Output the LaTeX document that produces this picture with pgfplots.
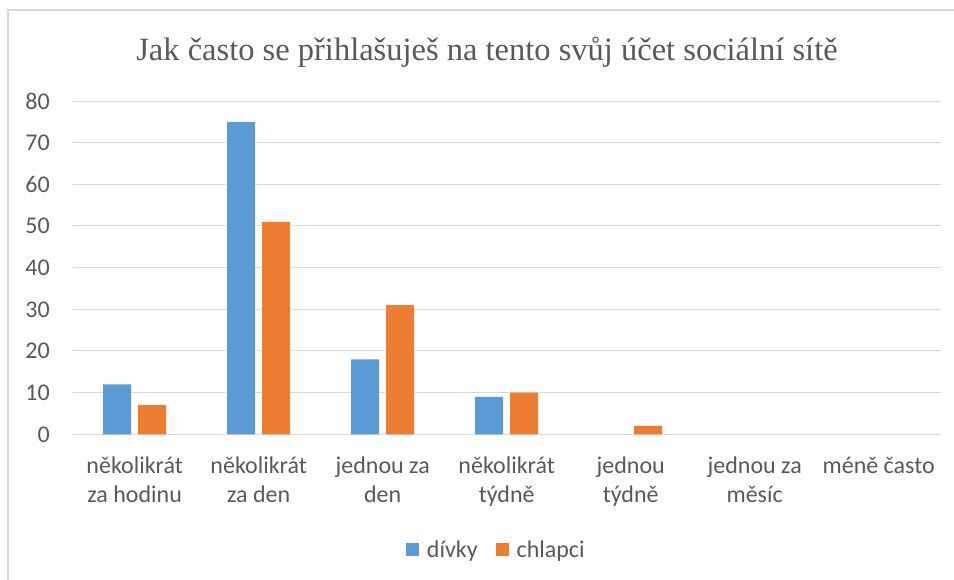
\documentclass[border=0pt]{standalone}
\usepackage{fontspec}
\setmainfont{Carlito}
\newfontfamily\titlefont{Liberation Serif}
\usepackage{pgfplots}
\pgfplotsset{compat=1.18}
\definecolor{cblue}{HTML}{5B9BD5}
\definecolor{corange}{HTML}{ED7D31}
\definecolor{cgrid}{HTML}{D9D9D9}
\definecolor{ctext}{HTML}{595959}
\begin{document}
\begin{tikzpicture}[x=1pt,y=1pt]
\useasboundingbox (0,0) rectangle (954,580);
% chart frame (only left and top edges fall inside the picture)
\draw[cgrid,line width=1.2pt] (8,-5) -- (8,570) -- (960,570);
\node[anchor=base,text=ctext,font=\titlefont\fontsize{32.5}{36}\selectfont]
  at (487,519) {Jak často se přihlašuješ na tento svůj účet sociální sítě};
\begin{axis}[
  at={(72.7pt,145.7pt)}, anchor=south west,
  scale only axis, width=868pt, height=333.3pt,
  ybar=7pt, bar width=28pt,
  xmin=-0.5, xmax=6.5, ymin=0, ymax=80,
  ytick={0,10,...,80},
  xtick={0,1,...,6},
  xticklabels={{několikrát\\za hodinu},{několikrát\\za den},{jednou za\\den},
               {několikrát\\týdně},{jednou\\týdně},{jednou za\\měsíc},
               {\vphantom{ká}méně často}},
  axis line style={draw=none},
  ymajorgrids, grid style={cgrid,line width=1pt},
  major tick length=0pt,
  /pgf/number format/assume math mode=true,
  tick label style={text=ctext,inner sep=0pt,font=\fontsize{24}{29}\selectfont},
  yticklabel style={xshift=-22.7pt},
  xticklabel style={align=center,anchor=north,yshift=-22pt},
  legend style={at={(0.488,-0.3457)},anchor=center,draw=none,
    legend columns=-1,font=\fontsize{24}{28}\selectfont,text=ctext,
    /tikz/every even column/.append style={column sep=16pt}},
  legend image code/.code={\fill[#1] (0pt,-6.5pt) rectangle (13pt,6.5pt);
    \path (19pt,0pt);},
]
% zero-valued categories are left out (Excel draws nothing for them)
\addplot[fill=cblue,draw=none] coordinates {(0,12) (1,75) (2,18) (3,9)};
\addplot[fill=corange,draw=none] coordinates {(0,7) (1,51) (2,31) (3,10) (4,2)};
\legend{dívky,chlapci}
\end{axis}
\end{tikzpicture}
\end{document}
